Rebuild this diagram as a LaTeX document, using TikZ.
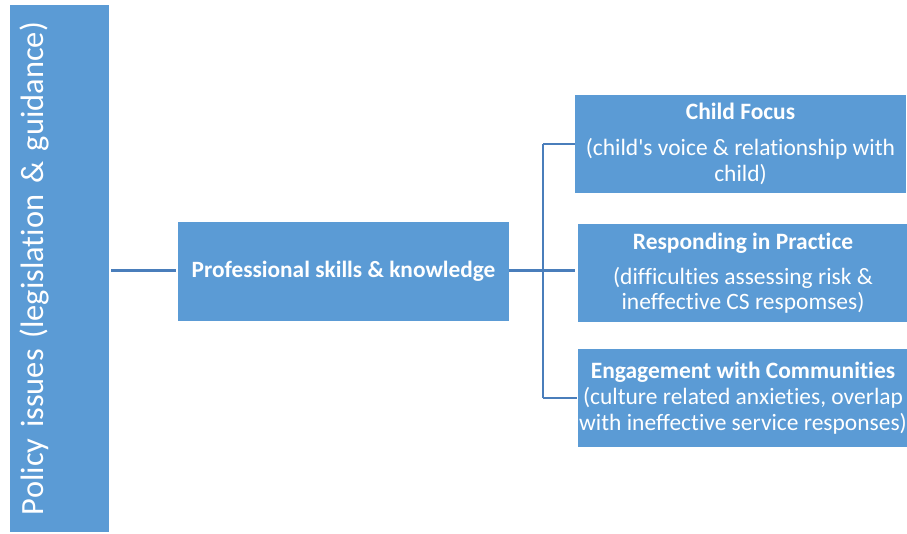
\documentclass[tikz,border=0pt]{standalone}
\usepackage{fontspec}
\setmainfont{Carlito}[Ligatures={NoCommon,TeXOff}]
\definecolor{boxblue}{HTML}{5B9BD5}
\definecolor{lineblue}{HTML}{4A7EBB}
\begin{document}
\begin{tikzpicture}[x=0.75pt, y=-0.75pt, node distance=95.25pt,
  box/.style={rectangle, fill=boxblue, text=white, inner sep=0pt, align=center,
    minimum width=248.25pt, minimum height=74pt, font=\fontsize{17.6}{19.5}\selectfont},
  link/.style={draw=lineblue, line width=1.5pt},
  mainlink/.style={draw=lineblue, line width=2.25pt}]
	\useasboundingbox (0,0) rectangle (907,534);

	\node (policy) [rectangle, fill=boxblue, text=white, rotate=90, inner sep=0pt,
	  text width=395.25pt, align=center, text height=24.75pt, text depth=49.5pt,
	  font=\fontsize{24.3}{28}\selectfont] at (59.5,268.5) {Policy issues (legislation \& guidance)};
	\node (skills) [box, font=\fontsize{17.5}{19.5}\selectfont\bfseries] at (343.5,271.5) {Professional skills \& knowledge};

	\node (child) [box] at (740.5,144) {\textbf{Child Focus}\\[7.5pt](child's voice \& relationship with\\child)};
	\node (practice) [box, below of=child, xshift=1.875pt, yshift=-1.5pt] {\textbf{Responding in Practice}\\[6.75pt](difficulties assessing risk \&\\[-1pt]ineffective CS respomses)};
	\node (comm) [box, below of=child, xshift=1.875pt, yshift=-95.25pt] {\textbf{Engagement with Communities}\\(culture related anxieties, overlap\\with ineffective service responses)};

	\coordinate (fork) at (543,271);

	\draw[mainlink] ([xshift=1.5pt]policy.south |- fork) -- ([xshift=-1.5pt]skills.west |- fork);
	\draw[mainlink] (skills.east |- fork) -- ([xshift=-1.5pt]practice.west |- fork);
	\draw[link] (fork |- child.west) -- (fork |- comm.west);
	\draw[link] (fork |- child.west) -- (child.west);
	\draw[link] (fork |- comm.west) -- (comm.west);
\end{tikzpicture}
\end{document}
